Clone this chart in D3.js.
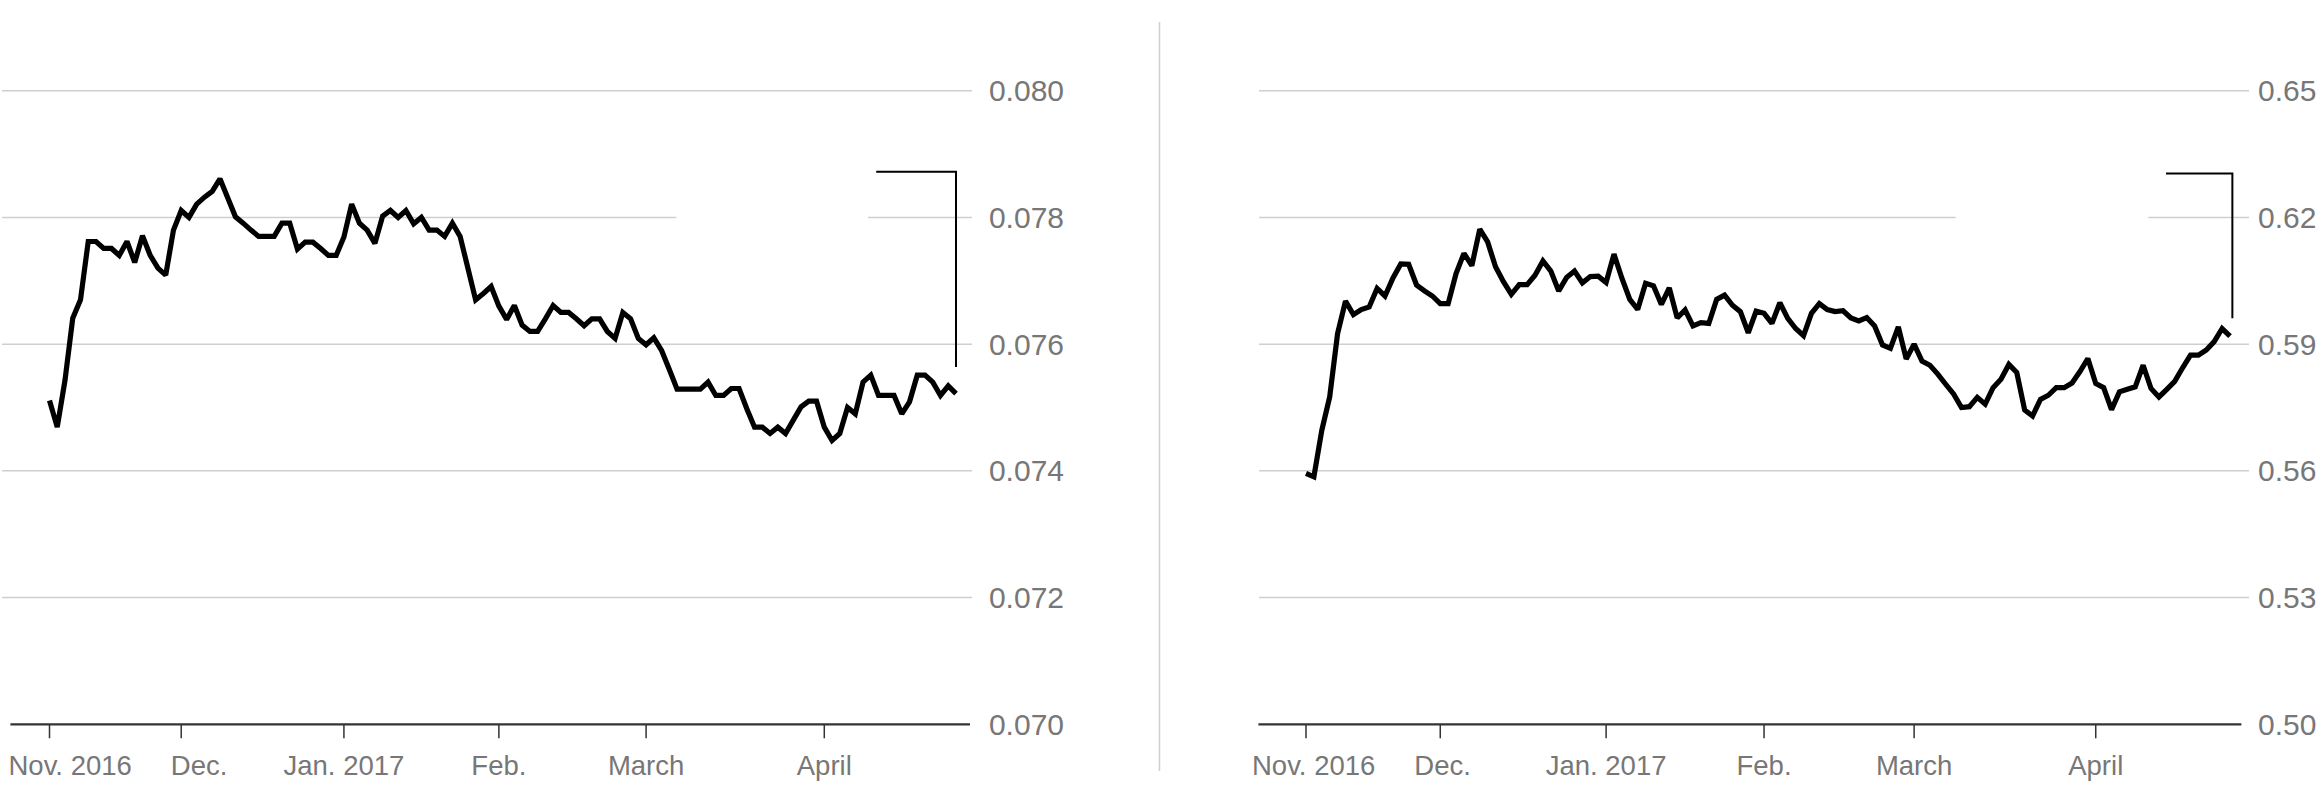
<!DOCTYPE html>
<html>
<head>
<meta charset="utf-8">
<script src="https://cdn.jsdelivr.net/npm/d3@7/dist/d3.min.js"></script>
<style>
  html, body { margin: 0; padding: 0; background: #ffffff; }
  svg { display: block; }
  text { font-family: "Liberation Sans", Arial, Helvetica, sans-serif; }
</style>
</head>
<body>
<svg id="chart" width="2320" height="788"></svg>
<script>
// ---------------- DATA ----------------
const tickLabels = ["Nov. 2016", "Dec.", "Jan. 2017", "Feb.", "March", "April"];
const tickIndex  = [0, 17, 38, 58, 77, 100];   // observation index of each month start

const leftValues = [
  0.07511, 0.07469, 0.07543, 0.07641, 0.07670, 0.07762, 0.07762, 0.07751, 0.07751, 0.07740,
  0.07762, 0.07729, 0.07771, 0.07740, 0.07720, 0.07709, 0.07780, 0.07811, 0.07800, 0.07821,
  0.07832, 0.07841, 0.07861, 0.07831, 0.07801, 0.07791, 0.07780, 0.07770, 0.07770, 0.07770,
  0.07791, 0.07791, 0.07750, 0.07761, 0.07761, 0.07751, 0.07740, 0.07740, 0.07769, 0.07821,
  0.07791, 0.07780, 0.07759, 0.07802, 0.07811, 0.07800, 0.07811, 0.07790, 0.07800, 0.07780,
  0.07780, 0.07770, 0.07791, 0.07770, 0.07720, 0.07670, 0.07680, 0.07691, 0.07660, 0.07639,
  0.07661, 0.07630, 0.07620, 0.07620, 0.07640, 0.07661, 0.07650, 0.07650, 0.07640, 0.07629,
  0.07640, 0.07640, 0.07620, 0.07609, 0.07650, 0.07640, 0.07609, 0.07599, 0.07610, 0.07590,
  0.07560, 0.07529, 0.07529, 0.07529, 0.07529, 0.07540, 0.07519, 0.07519, 0.07530, 0.07530,
  0.07498, 0.07469, 0.07469, 0.07459, 0.07469, 0.07459, 0.07480, 0.07501, 0.07510, 0.07510,
  0.07469, 0.07448, 0.07459, 0.07500, 0.07490, 0.07540, 0.07551, 0.07519, 0.07519, 0.07519,
  0.07490, 0.07509, 0.07551, 0.07551, 0.07540, 0.07519, 0.07534, 0.07522
];

const rightValues = [
  0.5594, 0.5586, 0.5696, 0.5775, 0.5925, 0.6002, 0.5970, 0.5982, 0.5988, 0.6032,
  0.6014, 0.6056, 0.6090, 0.6089, 0.6040, 0.6026, 0.6014, 0.5996, 0.5996, 0.6067,
  0.6115, 0.6086, 0.6172, 0.6142, 0.6083, 0.6048, 0.6018, 0.6041, 0.6041, 0.6063,
  0.6097, 0.6073, 0.6026, 0.6058, 0.6073, 0.6045, 0.6060, 0.6061, 0.6046, 0.6113,
  0.6056, 0.6006, 0.5982, 0.6044, 0.6038, 0.5994, 0.6033, 0.5962, 0.5981, 0.5943,
  0.5951, 0.5949, 0.6006, 0.6016, 0.5992, 0.5977, 0.5927, 0.5978, 0.5973, 0.5949,
  0.5998, 0.5961, 0.5937, 0.5920, 0.5973, 0.5996, 0.5982, 0.5977, 0.5979, 0.5962,
  0.5955, 0.5963, 0.5943, 0.5898, 0.5890, 0.5941, 0.5865, 0.5900, 0.5860, 0.5850,
  0.5829, 0.5805, 0.5782, 0.5750, 0.5752, 0.5774, 0.5758, 0.5797, 0.5817, 0.5852,
  0.5833, 0.5744, 0.5730, 0.5769, 0.5779, 0.5797, 0.5797, 0.5808, 0.5835, 0.5866,
  0.5807, 0.5797, 0.5745, 0.5787, 0.5793, 0.5799, 0.5850, 0.5795, 0.5775, 0.5793,
  0.5812, 0.5844, 0.5874, 0.5874, 0.5886, 0.5906, 0.5937, 0.5919
];

const leftYTicks  = [0.070, 0.072, 0.074, 0.076, 0.078, 0.080];
const rightYTicks = [0.50, 0.53, 0.56, 0.59, 0.62, 0.65];

// bracket annotations in data space: [startIndex, endIndex, topValue, bottomValue]
const leftBracket  = [106.7, 117, 0.07872, 0.07564];
const rightBracket = [108.9, 117.3, 0.6304, 0.5961];

// ---------------- LAYOUT ----------------
const svg = d3.select("#chart");
const gridColor = "#cfcfcf";
const labelColor = "#777777";
const axisColor = "#333333";

const panels = [
  {
    values: leftValues, yTicks: leftYTicks, fmt: d3.format(".3f"), bracket: leftBracket,
    xRange: [49.5, 956], yRange: [724.3, 90.7],
    grid: [2, 972], axis: [10.4, 970], gap: [676.4, 868], gapTick: 0.078,
    yLabelX: 1064, yLabelAnchor: "end", labelMinLeft: 8.5
  },
  {
    values: rightValues, yTicks: rightYTicks, fmt: d3.format(".2f"), bracket: rightBracket,
    xRange: [1306, 2230], yRange: [724.3, 90.7],
    grid: [1259, 2249], axis: [1258.4, 2241.4], gap: [1955.7, 2148.3], gapTick: 0.62,
    yLabelX: 2258, yLabelAnchor: "start", labelMinLeft: 1252
  }
];

// divider
svg.append("line")
  .attr("x1", 1159.5).attr("x2", 1159.5).attr("y1", 22).attr("y2", 771)
  .attr("stroke", gridColor).attr("stroke-width", 1.5);

panels.forEach(p => {
  const n = p.values.length;
  const x = d3.scaleLinear().domain([0, n - 1]).range(p.xRange);
  const yDom = d3.extent(p.yTicks);
  const y = d3.scaleLinear().domain(yDom).range(p.yRange);
  const g = svg.append("g");

  // gridlines (not the baseline)
  p.yTicks.filter(t => t !== yDom[0]).forEach(t => {
    const yy = y(t);
    if (Math.abs(t - p.gapTick) < 1e-9) {
      g.append("line").attr("x1", p.grid[0]).attr("x2", p.gap[0]).attr("y1", yy).attr("y2", yy)
        .attr("stroke", gridColor).attr("stroke-width", 1.5);
      g.append("line").attr("x1", p.gap[1]).attr("x2", p.grid[1]).attr("y1", yy).attr("y2", yy)
        .attr("stroke", gridColor).attr("stroke-width", 1.5);
    } else {
      g.append("line").attr("x1", p.grid[0]).attr("x2", p.grid[1]).attr("y1", yy).attr("y2", yy)
        .attr("stroke", gridColor).attr("stroke-width", 1.5);
    }
  });

  // y labels
  g.selectAll("text.ylab").data(p.yTicks).enter().append("text")
    .attr("class", "ylab")
    .attr("x", p.yLabelX).attr("y", d => y(d)).attr("dy", "0.35em")
    .attr("text-anchor", p.yLabelAnchor)
    .attr("font-size", 30).attr("fill", labelColor)
    .text(d => p.fmt(d));

  // x axis baseline
  g.append("line").attr("x1", p.axis[0]).attr("x2", p.axis[1])
    .attr("y1", y(yDom[0])).attr("y2", y(yDom[0]))
    .attr("stroke", axisColor).attr("stroke-width", 2.2);

  // ticks
  g.selectAll("line.tick").data(tickIndex).enter().append("line")
    .attr("class", "tick")
    .attr("x1", d => x(d)).attr("x2", d => x(d))
    .attr("y1", y(yDom[0])).attr("y2", y(yDom[0]) + 14)
    .attr("stroke", axisColor).attr("stroke-width", 1.5);

  // tick labels, centered, pushed apart so they don't collide
  const labs = g.selectAll("text.xlab").data(tickIndex).enter().append("text")
    .attr("class", "xlab")
    .attr("x", d => x(d)).attr("y", 775)
    .attr("text-anchor", "middle")
    .attr("font-size", 27.5).attr("fill", labelColor)
    .text((d, i) => tickLabels[i]);
  let prevRight = -Infinity;
  labs.each(function(d, i) {
    const w = this.getComputedTextLength();
    let left = x(d) - w / 2;
    if (i === 0) left = Math.max(left, p.labelMinLeft);
    else left = Math.max(left, prevRight + 39);
    d3.select(this).attr("text-anchor", "start").attr("x", left);
    prevRight = left + w;
  });

  // line
  const line = d3.line().x((d, i) => x(i)).y(d => y(d));
  g.append("path").datum(p.values)
    .attr("d", line)
    .attr("fill", "none").attr("stroke", "#000").attr("stroke-width", 5.2)
    .attr("stroke-linejoin", "miter").attr("stroke-miterlimit", 2);

  // bracket
  const b = p.bracket;
  g.append("path")
    .attr("d", `M${x(b[0])},${y(b[2])}H${x(b[1])}V${y(b[3])}`)
    .attr("fill", "none").attr("stroke", "#000").attr("stroke-width", 2);
});
</script>
</body>
</html>
